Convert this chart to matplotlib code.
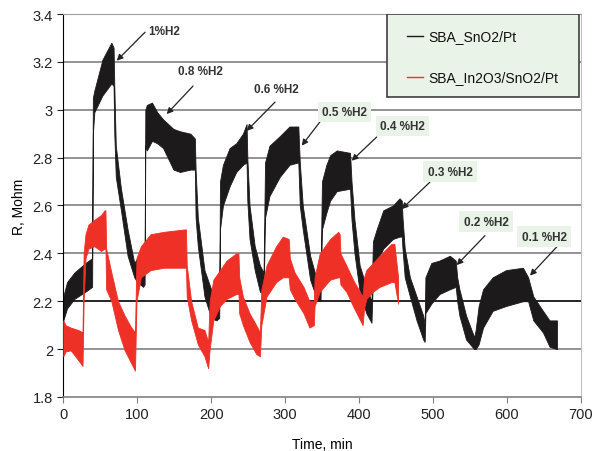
import numpy as np
import matplotlib.pyplot as plt
from matplotlib.patches import Rectangle

plt.rcParams['font.family'] = ['Liberation Sans', 'DejaVu Sans']

# SBA_SnO2/Pt : time, lower and upper edge of the noisy band
black_t = [0, 5, 15, 30, 39, 40, 42, 53, 65, 68, 69, 71, 78, 87, 96, 100, 108, 110,
           111, 113, 120, 127, 135, 149, 158, 172, 178, 179, 182, 191, 200, 207, 211,
           212, 216, 225, 234, 243, 248, 249, 252, 259, 266, 271,
           273, 279, 293, 306, 318, 320, 324, 334, 343, 348,
           350, 356, 361, 370, 388, 390, 394, 401, 410, 417,
           419, 424, 433, 446, 455, 458, 459, 462, 469, 478, 487, 489,
           490, 498, 509, 523, 531, 533, 536, 545, 556, 558,
           562, 568, 581, 599, 622, 629, 636, 649, 658, 668]
black_lo = [2.12, 2.17, 2.21, 2.24, 2.26, 2.90, 2.99, 3.06, 3.11, 3.10, 2.90, 2.72, 2.58, 2.39, 2.30, 2.28, 2.26, 2.27,
            2.85, 2.83, 2.87, 2.86, 2.84, 2.75, 2.74, 2.75, 2.75, 2.55, 2.43, 2.22, 2.13, 2.12, 2.13,
            2.50, 2.60, 2.68, 2.74, 2.77, 2.78, 2.62, 2.46, 2.33, 2.24, 2.23,
            2.55, 2.64, 2.72, 2.77, 2.78, 2.60, 2.50, 2.29, 2.21, 2.20,
            2.50, 2.57, 2.62, 2.66, 2.67, 2.54, 2.40, 2.24, 2.15, 2.11,
            2.30, 2.37, 2.42, 2.46, 2.47, 2.47, 2.42, 2.30, 2.22, 2.12, 2.04, 2.03,
            2.15, 2.19, 2.23, 2.25, 2.26, 2.20, 2.14, 2.04, 2.00, 2.00,
            2.02, 2.09, 2.16, 2.18, 2.20, 2.20, 2.12, 2.07, 2.01, 2.00]
black_hi = [2.22, 2.28, 2.32, 2.36, 2.38, 3.05, 3.08, 3.21, 3.28, 3.26, 3.10, 2.85, 2.67, 2.50, 2.36, 2.38, 2.36, 2.38,
            3.00, 3.02, 3.03, 2.99, 2.96, 2.92, 2.91, 2.90, 2.88, 2.75, 2.55, 2.33, 2.25, 2.22, 2.20,
            2.70, 2.77, 2.84, 2.86, 2.90, 2.94, 2.80, 2.60, 2.43, 2.35, 2.32,
            2.78, 2.85, 2.89, 2.93, 2.93, 2.78, 2.60, 2.39, 2.29, 2.28,
            2.70, 2.77, 2.81, 2.83, 2.82, 2.70, 2.54, 2.35, 2.26, 2.20,
            2.45, 2.50, 2.58, 2.60, 2.63, 2.62, 2.55, 2.42, 2.30, 2.22, 2.14, 2.10,
            2.30, 2.36, 2.37, 2.39, 2.37, 2.30, 2.25, 2.14, 2.05, 2.08,
            2.18, 2.25, 2.30, 2.33, 2.34, 2.30, 2.22, 2.16, 2.12, 2.12]

# SBA_In2O3/SnO2/Pt
red_t = [0, 3, 10, 20, 26, 27.5, 30, 34, 42, 51, 56, 57,
         58, 65, 74, 83, 92, 97, 99, 105, 118, 136, 164, 166,
         167, 173, 182, 191, 196, 198, 203, 212, 221, 234, 237,
         238, 243, 252, 261, 266, 268, 275, 288, 297, 305,
         306.5, 313, 325, 333, 339, 340, 347, 361, 372, 374,
         375, 383, 392, 405, 407, 410, 419, 428, 444, 448, 453]
red_lo = [1.97, 1.99, 1.995, 1.955, 1.93, 2.20, 2.38, 2.42, 2.43, 2.41, 2.42, 2.42,
          2.25, 2.20, 2.08, 1.995, 1.94, 1.91, 2.20, 2.30, 2.33, 2.34, 2.34, 2.34,
          2.22, 2.12, 2.02, 1.97, 1.92, 2.00, 2.12, 2.18, 2.21, 2.23, 2.23,
          2.15, 2.10, 2.03, 1.98, 1.97, 2.10, 2.22, 2.28, 2.30, 2.30,
          2.25, 2.21, 2.15, 2.09, 2.10, 2.18, 2.24, 2.29, 2.30, 2.30,
          2.27, 2.24, 2.18, 2.10, 2.17, 2.21, 2.24, 2.26, 2.28, 2.28, 2.19]
red_hi = [2.12, 2.10, 2.09, 2.08, 2.07, 2.40, 2.48, 2.52, 2.54, 2.56, 2.58, 2.58,
          2.42, 2.32, 2.20, 2.14, 2.09, 2.07, 2.38, 2.43, 2.48, 2.49, 2.50, 2.50,
          2.35, 2.20, 2.09, 2.08, 2.03, 2.20, 2.29, 2.33, 2.37, 2.40, 2.40,
          2.30, 2.22, 2.15, 2.10, 2.07, 2.25, 2.35, 2.43, 2.47, 2.46,
          2.38, 2.32, 2.26, 2.20, 2.20, 2.30, 2.40, 2.46, 2.49, 2.48,
          2.40, 2.35, 2.29, 2.22, 2.30, 2.33, 2.36, 2.39, 2.44, 2.44, 2.30]

series_names = ["SBA_SnO2/Pt", "SBA_In2O3/SnO2/Pt"]
series_colors = ["#1c1a1a", "#ee3026"]

# annotations: label, arrow tip, arrow tail, text centre (data coords), boxed?
ann_labels = ["1%H2", "0.8 %H2", "0.6 %H2", "0.5 %H2", "0.4 %H2", "0.3 %H2", "0.2 %H2", "0.1 %H2"]
ann_tip = [(72.3, 3.205), (139.9, 2.982), (248.2, 2.912), (322.6, 2.85),
           (390.3, 2.787), (457.9, 2.585), (532.3, 2.351), (631.5, 2.307)]
ann_tail = [(110.6, 3.324), (175.5, 3.099), (286.5, 3.032), (351.4, 2.966),
            (424.0, 2.886), (496.2, 2.698), (570.6, 2.474), (667.7, 2.427)]
ann_text = [(136.9, 3.327), (185.0, 3.16), (288.5, 3.087), (381.0, 2.99),
            (459.0, 2.932), (523.3, 2.742), (572.0, 2.533), (650.5, 2.47)]
ann_boxed = [False, False, False, True, True, True, True, True]

fig = plt.figure(figsize=(5.95, 4.52), dpi=100)
ax = fig.add_axes([0.1064, 0.1195, 0.8694, 0.8473])

# grid lines
for y in [2.0, 2.2, 2.4, 2.6, 2.8, 3.0, 3.2]:
    col = "black" if abs(y - 2.2) < 1e-6 else "#808080"
    ax.axhline(y, color=col, linewidth=1.2, zorder=0.5)

ax.fill_between(black_t, black_lo, black_hi, color=series_colors[0], linewidth=0.6, zorder=2)
ax.fill_between(red_t, red_lo, red_hi, color=series_colors[1], linewidth=0.6, zorder=3)

# legend box drawn by hand (axes coords)
ax.add_patch(Rectangle((0.626, 0.783), 0.371, 0.217, transform=ax.transAxes,
                       facecolor="#eaf3e7", edgecolor="#404040", linewidth=1.2, zorder=5))
for name, col, yy in zip(series_names, series_colors, [0.9426, 0.8355]):
    ax.plot([0.6647, 0.6957], [yy, yy], transform=ax.transAxes, color=col,
            linewidth=1, zorder=6)
    ax.text(0.705, yy, name, transform=ax.transAxes, fontsize=10, va="center",
            ha="left", color="#111111", zorder=6)

for lab, tip, tail, txt, boxed in zip(ann_labels, ann_tip, ann_tail, ann_text, ann_boxed):
    ax.annotate("", xy=tip, xytext=tail,
                arrowprops=dict(arrowstyle="-|>", color="#222222", lw=0.9,
                                mutation_scale=9, shrinkA=0, shrinkB=0), zorder=6)
    bbox = dict(boxstyle="square,pad=0.35", facecolor="#eaf3e7", edgecolor="none") if boxed else None
    ax.text(txt[0], txt[1], lab, ha="center", va="center", fontsize=8.5,
            fontweight="bold", color="#333333", bbox=bbox, zorder=6)

ax.set_xlim(0, 700)
ax.set_ylim(1.8, 3.4)
ax.set_xticks(range(0, 701, 100))
ax.set_yticks([1.8, 2.0, 2.2, 2.4, 2.6, 2.8, 3.0, 3.2, 3.4])
ax.set_yticklabels(["1.8", "2", "2.2", "2.4", "2.6", "2.8", "3", "3.2", "3.4"])
ax.tick_params(labelsize=10.5, colors="#222222", length=4, direction="out")
ax.tick_params(axis="x", color="#808080")
ax.set_xlabel("Time, min", fontsize=10, labelpad=11)
ax.set_ylabel("R, Mohm", fontsize=10, labelpad=5)

ax.spines["left"].set_color("black")
ax.spines["bottom"].set_color("#808080")
ax.spines["bottom"].set_linewidth(1.2)
ax.spines["top"].set_color("#a0a0a0")
ax.spines["right"].set_color("#c0c0c0")

plt.savefig("out.png", dpi=100)
